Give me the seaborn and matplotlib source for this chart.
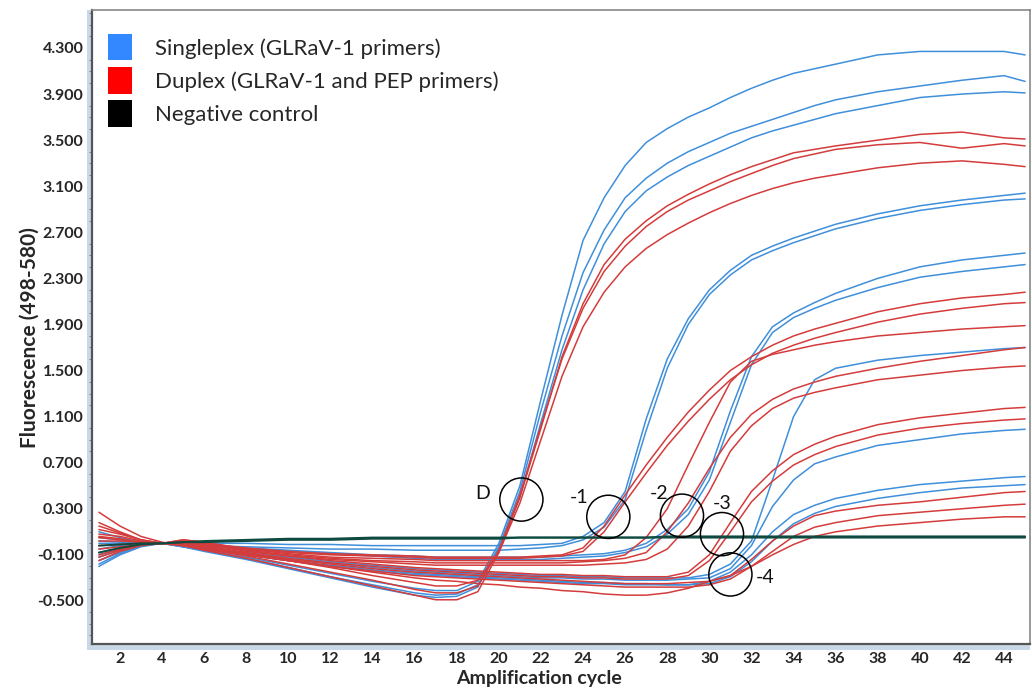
import pandas as pd
import matplotlib.pyplot as plt
import seaborn as sns
from matplotlib.patches import Patch, Ellipse, Rectangle
from matplotlib.ticker import MultipleLocator, FormatStrFormatter

cycles = [1, 2, 3, 4, 5, 6, 8, 10, 12, 14, 16, 17, 18, 19, 20, 21, 22, 23,
          24, 25, 26, 27, 28, 29, 30, 31, 32, 33, 34, 35, 36, 38, 40, 42, 44, 45]

# singleplex (blue) curves
B1 = [0.05, 0.03, 0.01, 0.00, -0.03, -0.06, -0.12, -0.19, -0.26, -0.33, -0.39, -0.41,
      -0.41, -0.33, 0.00, 0.50, 1.25, 1.98, 2.63, 3.00, 3.28, 3.48, 3.60, 3.70,
      3.78, 3.87, 3.95, 4.02, 4.08, 4.12, 4.16, 4.24, 4.27, 4.27, 4.27, 4.24]
B2 = [-0.08, -0.04, -0.01, 0.00, -0.03, -0.06, -0.13, -0.21, -0.29, -0.36, -0.43, -0.45,
      -0.44, -0.36, -0.03, 0.45, 1.15, 1.80, 2.35, 2.72, 3.00, 3.17, 3.30, 3.40,
      3.48, 3.56, 3.62, 3.68, 3.74, 3.80, 3.85, 3.92, 3.97, 4.02, 4.06, 4.01]
B3 = [-0.15, -0.08, -0.02, 0.00, -0.03, -0.07, -0.14, -0.22, -0.30, -0.38, -0.45, -0.47,
      -0.46, -0.38, -0.05, 0.40, 1.05, 1.68, 2.20, 2.60, 2.88, 3.06, 3.18, 3.28,
      3.36, 3.44, 3.52, 3.58, 3.63, 3.68, 3.73, 3.80, 3.87, 3.90, 3.92, 3.91]
B4 = [-0.05, -0.02, 0.00, 0.00, 0.00, 0.00, 0.00, -0.01, -0.01, -0.02, -0.02, -0.02,
      -0.02, -0.02, -0.02, -0.02, -0.01, 0.00, 0.06, 0.18, 0.45, 1.08, 1.60, 1.95,
      2.20, 2.37, 2.50, 2.58, 2.65, 2.71, 2.77, 2.86, 2.93, 2.98, 3.02, 3.04]
B5 = [-0.10, -0.05, -0.01, 0.00, -0.01, -0.02, -0.03, -0.04, -0.05, -0.05, -0.06, -0.06,
      -0.06, -0.06, -0.06, -0.05, -0.04, -0.02, 0.03, 0.14, 0.38, 0.98, 1.52, 1.90,
      2.16, 2.33, 2.46, 2.54, 2.61, 2.67, 2.73, 2.82, 2.89, 2.94, 2.98, 2.99]
B6 = [0.10, 0.05, 0.01, 0.00, -0.01, -0.02, -0.04, -0.06, -0.08, -0.10, -0.11, -0.12,
      -0.12, -0.12, -0.12, -0.12, -0.12, -0.11, -0.10, -0.09, -0.06, 0.00, 0.12, 0.30,
      0.62, 1.15, 1.62, 1.88, 2.00, 2.09, 2.17, 2.30, 2.40, 2.46, 2.50, 2.52]
B7 = [-0.20, -0.10, -0.03, 0.00, -0.01, -0.03, -0.05, -0.07, -0.09, -0.11, -0.13, -0.14,
      -0.14, -0.14, -0.14, -0.14, -0.14, -0.13, -0.12, -0.11, -0.08, -0.03, 0.08, 0.25,
      0.55, 1.05, 1.55, 1.83, 1.96, 2.04, 2.11, 2.22, 2.31, 2.36, 2.40, 2.42]
B8 = [0.00, 0.00, 0.00, 0.00, -0.02, -0.04, -0.08, -0.12, -0.16, -0.19, -0.22, -0.23,
      -0.24, -0.25, -0.26, -0.27, -0.28, -0.28, -0.29, -0.29, -0.30, -0.30, -0.30, -0.30,
      -0.27, -0.18, 0.02, 0.55, 1.10, 1.42, 1.52, 1.59, 1.63, 1.66, 1.69, 1.70]
B9 = [-0.12, -0.06, -0.02, 0.00, -0.02, -0.04, -0.09, -0.13, -0.17, -0.21, -0.24, -0.25,
      -0.26, -0.27, -0.28, -0.29, -0.30, -0.30, -0.31, -0.31, -0.32, -0.32, -0.32, -0.31,
      -0.30, -0.22, -0.02, 0.32, 0.55, 0.69, 0.75, 0.85, 0.90, 0.95, 0.98, 0.99]
B10 = [0.02, 0.01, 0.00, 0.00, -0.02, -0.05, -0.10, -0.15, -0.19, -0.23, -0.26, -0.27,
       -0.28, -0.29, -0.30, -0.31, -0.32, -0.33, -0.34, -0.34, -0.35, -0.35, -0.36, -0.36,
       -0.33, -0.25, -0.10, 0.10, 0.25, 0.33, 0.39, 0.46, 0.51, 0.54, 0.57, 0.58]
B11 = [-0.18, -0.09, -0.02, 0.00, -0.02, -0.05, -0.10, -0.15, -0.20, -0.24, -0.27, -0.28,
       -0.29, -0.30, -0.31, -0.32, -0.33, -0.34, -0.35, -0.35, -0.36, -0.36, -0.36, -0.36,
       -0.35, -0.29, -0.16, 0.02, 0.17, 0.26, 0.32, 0.39, 0.44, 0.48, 0.50, 0.51]

# duplex (red) curves
R1 = [0.27, 0.15, 0.06, 0.01, -0.02, -0.06, -0.13, -0.21, -0.29, -0.37, -0.45, -0.49,
      -0.49, -0.42, -0.08, 0.40, 1.00, 1.62, 2.08, 2.42, 2.64, 2.80, 2.93, 3.03,
      3.12, 3.20, 3.27, 3.33, 3.39, 3.42, 3.45, 3.50, 3.55, 3.57, 3.52, 3.51]
R2 = [0.12, 0.08, 0.03, 0.00, -0.02, -0.05, -0.11, -0.18, -0.25, -0.32, -0.40, -0.43,
      -0.43, -0.37, -0.06, 0.42, 1.02, 1.60, 2.04, 2.36, 2.58, 2.75, 2.88, 2.98,
      3.06, 3.14, 3.21, 3.28, 3.34, 3.38, 3.42, 3.46, 3.48, 3.43, 3.47, 3.45]
R3 = [0.02, 0.02, 0.01, 0.00, -0.02, -0.04, -0.09, -0.15, -0.21, -0.28, -0.34, -0.37,
      -0.37, -0.32, -0.08, 0.35, 0.90, 1.45, 1.88, 2.18, 2.40, 2.56, 2.68, 2.78,
      2.87, 2.95, 3.02, 3.08, 3.13, 3.17, 3.20, 3.26, 3.30, 3.32, 3.29, 3.27]
R4 = [0.08, 0.06, 0.02, 0.00, 0.02, 0.00, -0.04, -0.07, -0.09, -0.10, -0.11, -0.12,
      -0.12, -0.12, -0.12, -0.12, -0.11, -0.10, -0.04, 0.15, 0.42, 0.68, 0.92, 1.14,
      1.33, 1.50, 1.62, 1.72, 1.80, 1.86, 1.91, 2.01, 2.08, 2.13, 2.16, 2.18]
R5 = [-0.05, -0.03, -0.01, 0.00, 0.03, 0.01, -0.05, -0.08, -0.10, -0.11, -0.12, -0.13,
      -0.13, -0.13, -0.13, -0.13, -0.12, -0.11, -0.07, 0.10, 0.36, 0.61, 0.85, 1.06,
      1.25, 1.42, 1.55, 1.65, 1.72, 1.78, 1.83, 1.92, 1.99, 2.04, 2.08, 2.09]
R6 = [0.15, 0.09, 0.03, 0.00, 0.02, 0.00, -0.05, -0.09, -0.12, -0.13, -0.14, -0.15,
      -0.15, -0.15, -0.15, -0.15, -0.15, -0.15, -0.15, -0.14, -0.10, 0.05, 0.30, 0.68,
      1.05, 1.40, 1.58, 1.64, 1.68, 1.72, 1.75, 1.80, 1.83, 1.86, 1.88, 1.89]
R7 = [-0.12, -0.06, -0.01, 0.00, 0.02, 0.00, -0.06, -0.10, -0.13, -0.15, -0.16, -0.17,
      -0.17, -0.17, -0.17, -0.17, -0.17, -0.17, -0.16, -0.15, -0.13, -0.08, 0.10, 0.35,
      0.65, 0.92, 1.12, 1.25, 1.34, 1.40, 1.45, 1.52, 1.58, 1.63, 1.68, 1.70]
R8 = [0.05, 0.03, 0.01, 0.00, 0.03, 0.01, -0.06, -0.11, -0.14, -0.16, -0.18, -0.19,
      -0.19, -0.19, -0.19, -0.19, -0.19, -0.19, -0.19, -0.18, -0.17, -0.14, -0.05, 0.15,
      0.45, 0.80, 1.02, 1.17, 1.26, 1.31, 1.35, 1.42, 1.46, 1.50, 1.53, 1.54]
R9 = [-0.02, -0.01, 0.00, 0.00, 0.01, -0.01, -0.07, -0.11, -0.15, -0.18, -0.21, -0.22,
      -0.23, -0.24, -0.25, -0.26, -0.27, -0.27, -0.28, -0.28, -0.29, -0.29, -0.29, -0.25,
      -0.10, 0.18, 0.45, 0.63, 0.77, 0.86, 0.93, 1.03, 1.09, 1.13, 1.17, 1.18]
R10 = [0.18, 0.10, 0.03, 0.00, 0.01, -0.02, -0.08, -0.13, -0.17, -0.20, -0.23, -0.24,
       -0.25, -0.26, -0.27, -0.28, -0.29, -0.29, -0.30, -0.30, -0.31, -0.31, -0.31, -0.28,
       -0.15, 0.10, 0.36, 0.54, 0.68, 0.77, 0.84, 0.94, 1.00, 1.04, 1.07, 1.08]
R11 = [-0.15, -0.07, -0.02, 0.00, 0.00, -0.03, -0.09, -0.14, -0.18, -0.22, -0.25, -0.26,
       -0.27, -0.28, -0.29, -0.30, -0.31, -0.32, -0.33, -0.34, -0.35, -0.35, -0.35, -0.34,
       -0.33, -0.28, -0.14, 0.02, 0.15, 0.24, 0.28, 0.33, 0.36, 0.40, 0.44, 0.45]
R12 = [0.06, 0.04, 0.01, 0.00, 0.00, -0.03, -0.10, -0.15, -0.20, -0.24, -0.28, -0.29,
       -0.30, -0.31, -0.32, -0.33, -0.34, -0.35, -0.36, -0.37, -0.38, -0.38, -0.38, -0.38,
       -0.36, -0.31, -0.20, -0.07, 0.06, 0.14, 0.18, 0.24, 0.27, 0.30, 0.33, 0.34]
R13 = [-0.10, -0.05, -0.01, 0.00, -0.01, -0.05, -0.10, -0.15, -0.20, -0.25, -0.30, -0.32,
       -0.33, -0.35, -0.36, -0.38, -0.39, -0.41, -0.42, -0.44, -0.45, -0.45, -0.43, -0.39,
       -0.33, -0.28, -0.20, -0.10, -0.01, 0.06, 0.10, 0.15, 0.18, 0.21, 0.23, 0.23]

# negative controls
N1 = [-0.02, -0.01, 0.00, 0.00, 0.01, 0.02, 0.03, 0.04, 0.04, 0.05, 0.05, 0.05,
      0.05, 0.05, 0.05, 0.05, 0.05, 0.05, 0.05, 0.05, 0.05, 0.05, 0.06, 0.06,
      0.06, 0.06, 0.06, 0.06, 0.06, 0.06, 0.06, 0.06, 0.06, 0.06, 0.06, 0.06]
N2 = [-0.08, -0.04, -0.01, 0.00, 0.01, 0.01, 0.02, 0.03, 0.03, 0.04, 0.04, 0.04,
      0.04, 0.04, 0.04, 0.05, 0.05, 0.05, 0.05, 0.05, 0.05, 0.05, 0.05, 0.05,
      0.05, 0.05, 0.05, 0.05, 0.05, 0.05, 0.05, 0.05, 0.05, 0.05, 0.05, 0.05]

groups = {
    "Singleplex": [B1, B2, B3, B4, B5, B6, B7, B8, B9, B10, B11],
    "Duplex": [R1, R2, R3, R4, R5, R6, R7, R8, R9, R10, R11, R12, R13],
    "Negative": [N1, N2],
}
legend_labels = ["Singleplex (GLRaV-1 primers)", "Duplex (GLRaV-1 and PEP primers)", "Negative control"]

# dilution marks: circle centre (cycle, fluorescence) and label position
marks = ["D", "-1", "-2", "-3", "-4"]
circle_x = [21.07, 25.2, 28.7, 30.6, 31.0]
circle_y = [0.38, 0.23, 0.24, 0.08, -0.27]
label_x = [19.24, 23.8, 27.6, 30.6, 32.64]
label_y = [0.43, 0.40, 0.43, 0.35, -0.30]

rows = []
for g, curves in groups.items():
    for i, vals in enumerate(curves):
        for c, v in zip(cycles, vals):
            rows.append({"cycle": c, "fluor": v, "group": g, "curve": f"{g}{i}"})
df = pd.DataFrame(rows)

sns.set_theme(style="white")
plt.rcParams["font.family"] = ["Lato", "DejaVu Sans"]

fig = plt.figure(figsize=(10.32, 6.93), dpi=100)
ax = fig.add_axes([0.0891, 0.0707, 0.9089, 0.9149])

line_colors = {"Singleplex": "#3f8fdb", "Duplex": "#d43c3c", "Negative": "#0e4a3f"}
sns.lineplot(data=df[df.group != "Negative"], x="cycle", y="fluor", hue="group",
             units="curve", estimator=None, palette=line_colors, lw=1.1,
             legend=False, ax=ax)
sns.lineplot(data=df[df.group == "Negative"], x="cycle", y="fluor", units="curve",
             estimator=None, color=line_colors["Negative"], lw=1.4, legend=False, ax=ax)

for m, cx, cy, lx, ly in zip(marks, circle_x, circle_y, label_x, label_y):
    ax.add_patch(Ellipse((cx, cy), width=2.05, height=0.375, fill=False,
                         ec="black", lw=1.1, zorder=5))
    ax.text(lx, ly, m, fontsize=14, ha="center", va="center", color="#111111")

ax.set_xlim(0.67, 45.23)
ax.set_ylim(-0.874, 4.63)
ax.set_xticks(range(2, 45, 2))
ax.set_yticks([-0.5 + 0.4 * k for k in range(13)])
ax.yaxis.set_minor_locator(MultipleLocator(0.1))
ax.yaxis.set_major_formatter(FormatStrFormatter("%.3f"))
ax.tick_params(axis="both", which="major", direction="out", length=4, width=0.8,
               color="#777777", labelsize=11.5, pad=2)
ax.tick_params(axis="y", which="minor", direction="out", length=2.5, width=0.6,
               color="#777777", left=True)
for lab in ax.get_xticklabels() + ax.get_yticklabels():
    lab.set_fontweight("bold")

ax.set_xlabel("Amplification cycle", fontsize=14, fontweight="bold")
ax.set_ylabel("Fluorescence (498-580)", fontsize=15, fontweight="bold")
ax.xaxis.set_label_coords(0.4765, -0.041)
ax.yaxis.set_label_coords(-0.056, 0.483)

for side in ["left", "bottom"]:
    ax.spines[side].set_color("#555555")
    ax.spines[side].set_linewidth(1.6)
for side in ["top", "right"]:
    ax.spines[side].set_color("#888888")
    ax.spines[side].set_linewidth(1.2)

# light blue band along the left and bottom axes
ax.add_patch(Rectangle((-5 / 938, -6 / 634), 5 / 938, 1 + 6 / 634, transform=ax.transAxes,
                       color="#c9d8e8", clip_on=False, zorder=0, lw=0))
ax.add_patch(Rectangle((-5 / 938, -6 / 634), 1 + 5 / 938, 6 / 634, transform=ax.transAxes,
                       color="#c9d8e8", clip_on=False, zorder=0, lw=0))

handles = [Patch(facecolor="#3388ff", edgecolor="none"),
           Patch(facecolor="#ff0000", edgecolor="none"),
           Patch(facecolor="#000000", edgecolor="none")]
ax.legend(handles, legend_labels, loc="upper left", bbox_to_anchor=(0.017, 0.962),
          frameon=False, fontsize=16, handlelength=1.1, handleheight=1.45,
          handletextpad=1.0, labelspacing=0.3, borderpad=0, borderaxespad=0)

fig.savefig("out.png", dpi=100)
